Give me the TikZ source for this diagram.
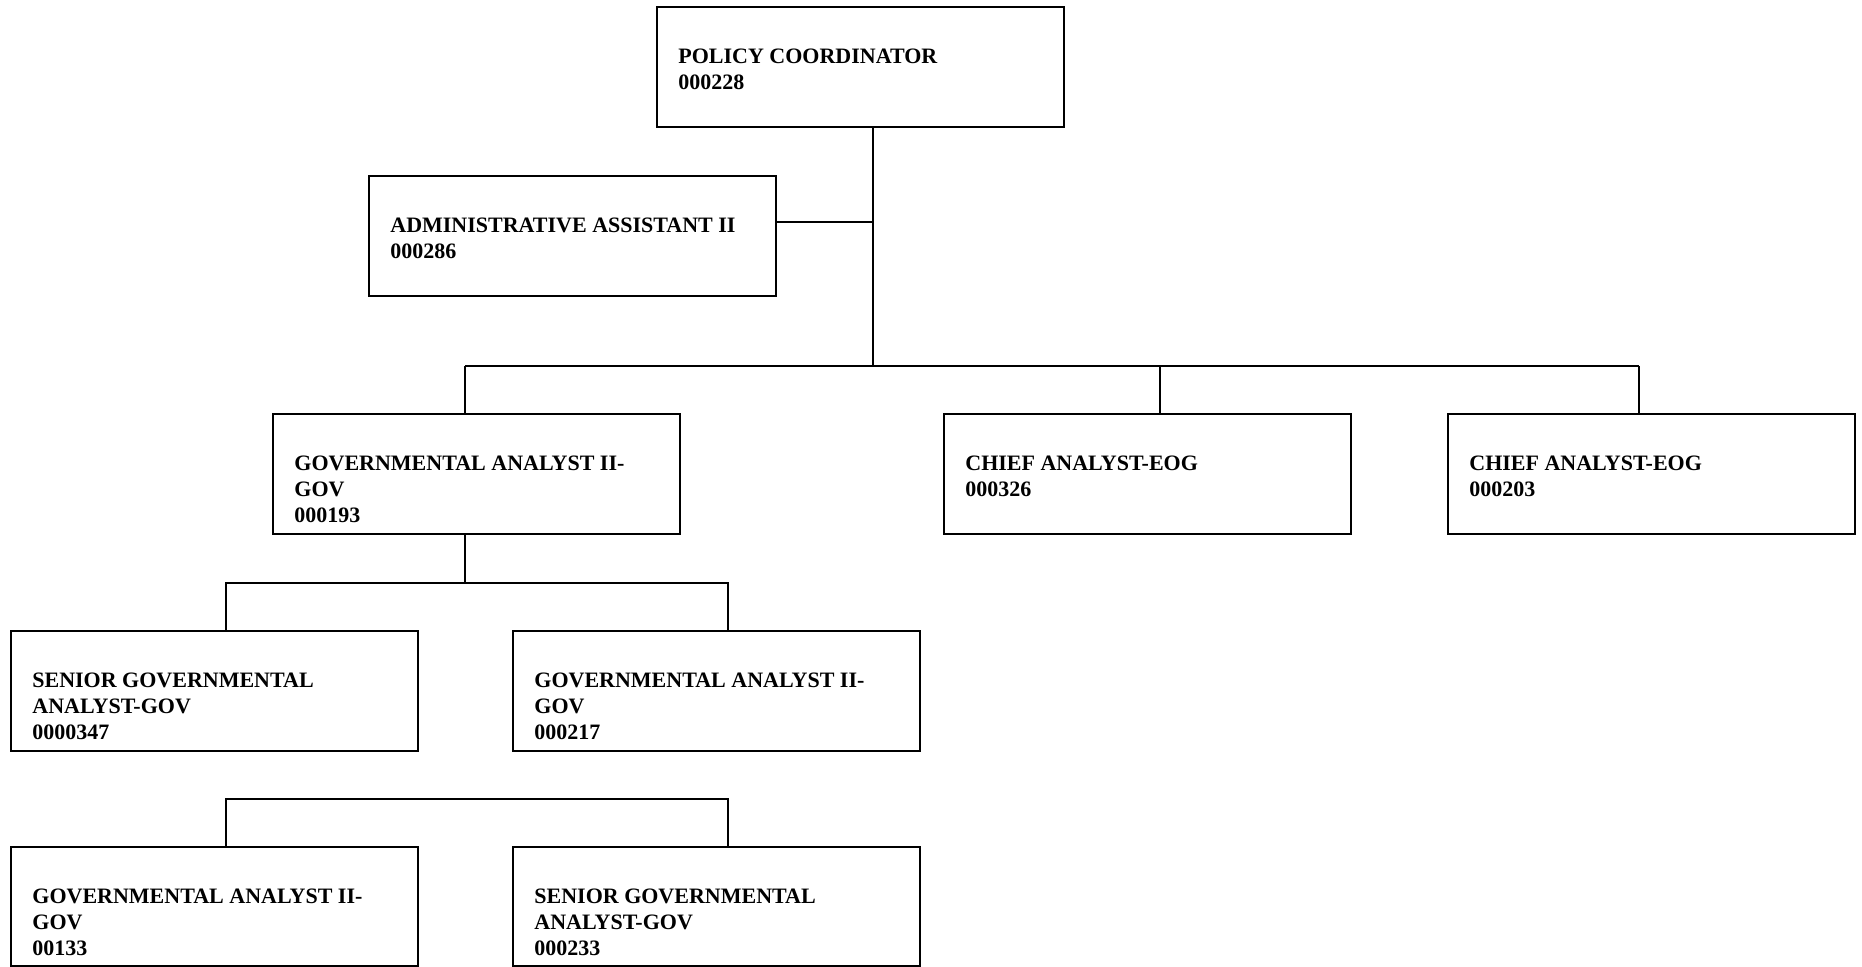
\documentclass[tikz,border=0pt]{standalone}
\usepackage{fontspec}
\setmainfont{Liberation Serif}
\begin{document}
\begin{tikzpicture}[x=0.5pt,y=-0.5pt,
  box/.style={draw, line width=1.1pt, rectangle, anchor=north west,
    minimum width=203.5pt, minimum height=60pt, inner sep=0pt, outer sep=0pt},
  lbl/.style={anchor=north west, inner sep=0pt, align=left,
    font=\fontsize{11}{13}\selectfont\bfseries, xshift=10.5pt, yshift=-21pt},
  wire/.style={line width=0.7pt}]
\useasboundingbox (0,0) rectangle (1862,967);

% positions (top-left corner of each box)
\node[box] (pc)   at (657,7)   {};
\node[box] (aa)   at (369,176) {};
\node[box] (ga1)  at (273,414) {};
\node[box] (ca1)  at (944,414) {};
\node[box] (ca2)  at (1448,414) {};
\node[box] (sg1)  at (11,631)  {};
\node[box] (ga2)  at (513,631) {};
\node[box, minimum height=59.5pt] (ga3) at (11,847) {};
\node[box, minimum height=59.5pt] (sg2) at (513,847) {};

% titles
\node[lbl] (pct)  at (pc.north west)  {POLICY COORDINATOR\\000228};
\node[lbl] (aat)  at (aa.north west)  {ADMINISTRATIVE ASSISTANT II\\000286};
\node[lbl] (ga1t) at (ga1.north west) {GOVERNMENTAL ANALYST II-\\GOV\\000193};
\node[lbl] (ca1t) at (ca1.north west) {CHIEF ANALYST-EOG\\000326};
\node[lbl] (ca2t) at (ca2.north west) {CHIEF ANALYST-EOG\\000203};
\node[lbl] (sg1t) at (sg1.north west) {SENIOR GOVERNMENTAL\\ANALYST-GOV\\0000347};
\node[lbl] (ga2t) at (ga2.north west) {GOVERNMENTAL ANALYST II-\\GOV\\000217};
\node[lbl] (ga3t) at (ga3.north west) {GOVERNMENTAL ANALYST II-\\GOV\\00133};
\node[lbl] (sg2t) at (sg2.north west) {SENIOR GOVERNMENTAL\\ANALYST-GOV\\000233};

% bus points
\coordinate (trunk) at (873,366);
\coordinate (aaj)   at (873,222);
\coordinate (b1)    at (465,366);
\coordinate (b2)    at (1160,366);
\coordinate (b3)    at (1639,366);
\coordinate (m)     at (465,583);
\coordinate (ml)    at (226,583);
\coordinate (mr)    at (728,583);
\coordinate (ll)    at (226,799);
\coordinate (lr)    at (728,799);

% connectors
\draw[wire] (pc.south -| trunk) -- (trunk);
\draw[wire] (aa.east |- aaj) -- (aaj);
\draw[wire] (b1) -- (b3);
\draw[wire] (b1) -- (ga1.north -| b1);
\draw[wire] (b2) -- (ca1.north -| b2);
\draw[wire] (b3) -- (ca2.north -| b3);
\draw[wire] (ga1.south -| m) -- (m);
\draw[wire] (sg1.north -| ml) -- (ml) -- (mr) -- (ga2.north -| mr);
\draw[wire] (ga3.north -| ll) -- (ll) -- (lr) -- (sg2.north -| lr);
\end{tikzpicture}
\end{document}
